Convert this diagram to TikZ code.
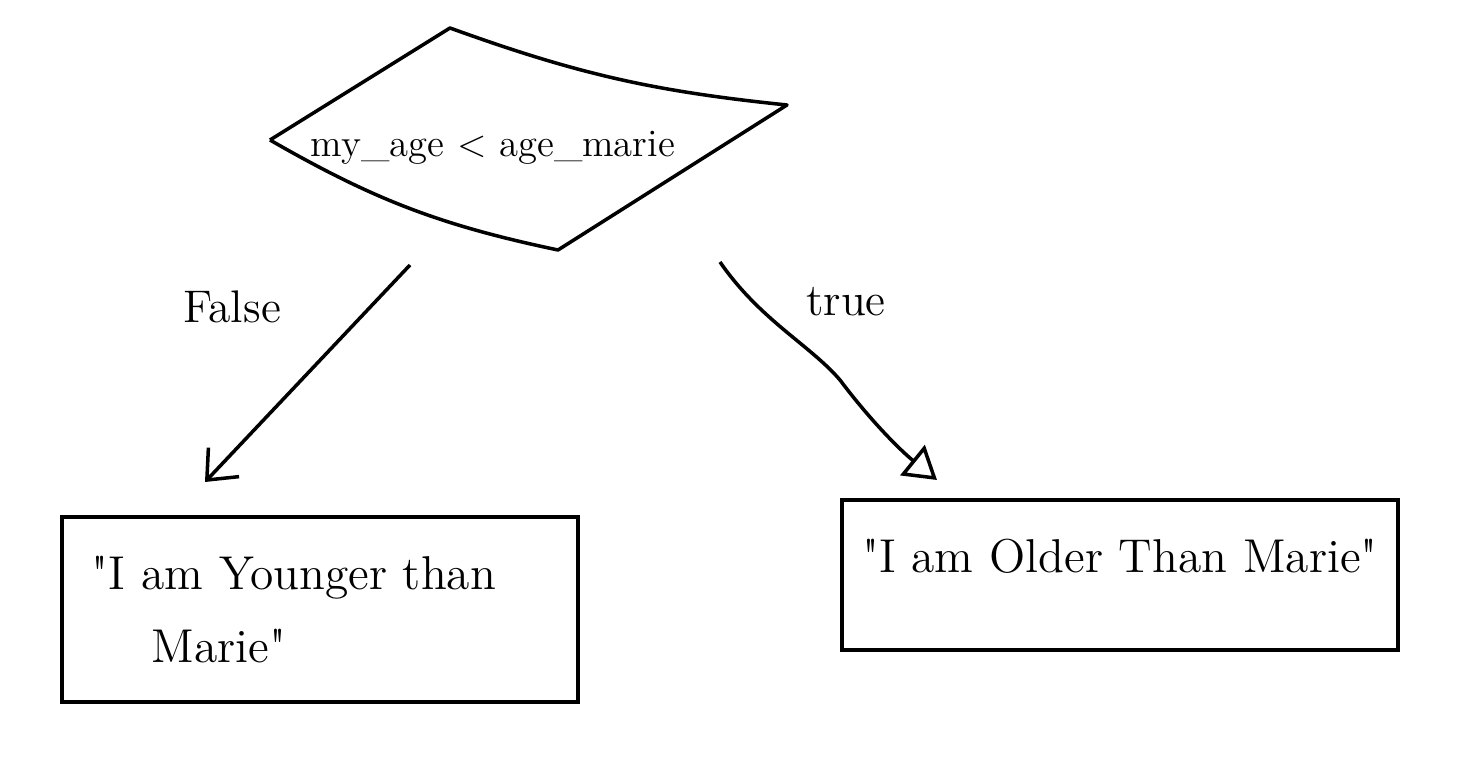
\documentclass[tikz,border=0pt]{standalone}
\usetikzlibrary{arrows.meta}
\begin{document}
\begin{tikzpicture}[x=0.01cm,y=-0.01cm,
  stroke/.style={line width=1pt,black},
  decision/.style={stroke,line join=round},
  dtext/.style={font=\fontsize{11}{14}\selectfont,inner sep=0pt},
  outbox/.style={stroke,draw,rectangle,inner sep=0pt,font=\fontsize{13.5}{21}\selectfont},
  lbl/.style={font=\fontsize{13}{16}\selectfont,inner sep=0pt},
  flowno/.style={stroke,-{Straight Barb[length=7pt,width=12pt,line width=1pt]}},
  flowyes/.style={stroke,-{Triangle[open,length=9pt,width=11pt,line width=1pt]}}]
\useasboundingbox (0,0) rectangle (1465,761);
% decision shape
\coordinate (dl) at (270,140);
\coordinate (dt) at (450,28);
\coordinate (dr) at (787,105);
\coordinate (db) at (558,250);
\draw[decision] (dl) -- (dt) to[bend right=7] (dr) -- (db) to[bend left=9] (dl);
\node[dtext] (cond) at (493,148) {my\_age < age\_marie};
% result boxes
\node[outbox,minimum width=5.16cm,minimum height=1.85cm,text width=4.56cm,align=left] (younger) at (320,609.5)
  {\textquotedbl I am Younger than\\\hspace*{0.6cm}Marie\textquotedbl};
\node[outbox,minimum width=5.56cm,minimum height=1.50cm,text width=5.3cm,align=center,text depth=11pt] (older) at (1120,575)
  {\textquotedbl I am Older Than Marie\textquotedbl};
% connectors
\coordinate (sno) at (410,265);
\coordinate (eno) at (205,482);
\coordinate (syes) at (720,262);
\coordinate (eyes) at (937,480);
\draw[flowno] (sno) -- (eno);
\draw[flowyes] (syes) .. controls (760,320) and (810,345) .. (840,380) .. controls (870,420) and (900,450) .. (eyes);
\node[lbl] (lfalse) at (232,307) {False};
\node[lbl] (ltrue) at (846,302) {true};
\end{tikzpicture}
\end{document}
